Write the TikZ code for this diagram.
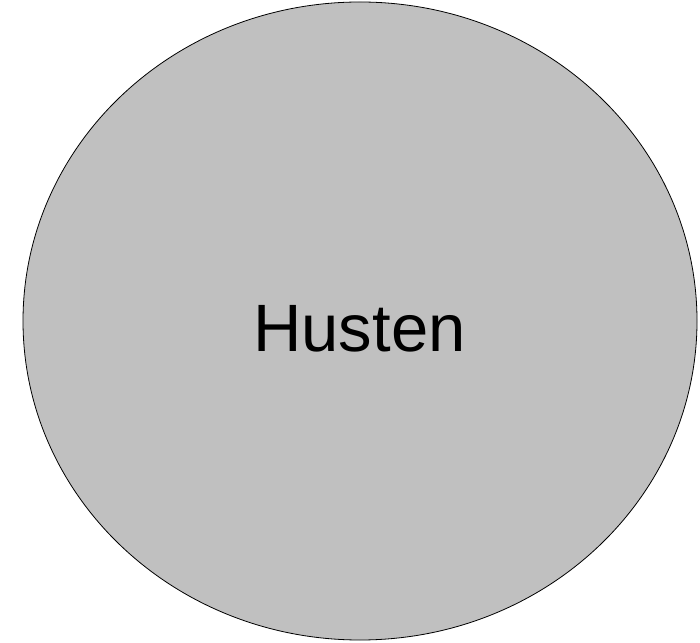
\documentclass[tikz,border=0pt]{standalone}
\usepackage{fontspec}
\setmainfont{Liberation Sans}
\usetikzlibrary{shapes.geometric}
\definecolor{fillgray}{HTML}{C0C0C0}
\tikzset{blob/.style={ellipse, draw=black, line width=0.8pt, fill=fillgray, minimum width=674pt, minimum height=638pt, inner sep=0pt},
label text/.style={anchor=base, inner sep=0pt, font=\fontsize{67}{78}\selectfont}}
\begin{document}
\begin{tikzpicture}[x=1pt,y=1pt]
\useasboundingbox (0,0) rectangle (700,642);
\node[blob] (husten) at (360,321) {};
\node[label text] (hustentext) at (359.5,290) {Husten};
\end{tikzpicture}
\end{document}
